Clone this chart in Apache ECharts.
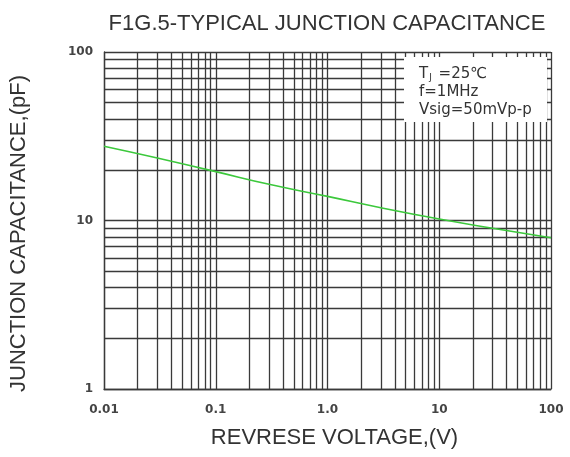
<!DOCTYPE html>
<html>
<head>
<meta charset="utf-8">
<script src="https://cdn.jsdelivr.net/npm/echarts@6/dist/echarts.min.js"></script>
<style>
html,body{margin:0;padding:0;background:#fff;}
#chart{width:570px;height:457px;}
</style>
</head>
<body>
<div id="chart"></div>
<script>
// Data
var voltage = [0.01, 0.03, 0.1, 0.3, 1, 3, 10, 30, 100];
var capacitance = [27.6, 23.5, 19.5, 16.4, 13.9, 11.9, 10.2, 9.0, 7.9];
var xTickLabels = {"0.01": "0.01", "0.1": "0.1", "1": "1.0", "10": "10", "100": "100"};
var yTickLabels = {"1": "1", "10": "10", "100": "100"};
var xMinorGrid = [0.02,0.03,0.04,0.05,0.06,0.07,0.08,0.09,
                  0.2,0.3,0.4,0.5,0.6,0.7,0.8,0.9,
                  2,3,4,5,6,7,8,9,
                  20,30,40,50,60,70,80,90];
var yMinorGrid = [2,3,4,5,6,7,8,9,20,30,40,50,60,70,80,90];
var conditions = ["{t|T}{s|J}{t| =25\u2103}", "{t|f=1MHz}", "{t|Vsig=50mVp-p}"];

var FONT = 'DejaVu Sans';
var LFONT = 'Liberation Sans';
var gridColor = '#3a3a3a';
var chart = echarts.init(document.getElementById('chart'), null, {renderer: 'canvas'});
var gridLines = [];
xMinorGrid.forEach(function (v) { gridLines.push({xAxis: v}); });
yMinorGrid.forEach(function (v) { gridLines.push({yAxis: v}); });

chart.setOption({
  animation: false,
  backgroundColor: '#fff',
  title: {
    text: 'F1G.5-TYPICAL JUNCTION CAPACITANCE',
    left: 322, top: 8, textAlign: 'center',
    textStyle: {fontFamily: LFONT, fontSize: 22, fontWeight: 'normal', color: '#333'}
  },
  grid: {left: 103, right: 19, top: 52, bottom: 68, show: false},
  xAxis: {
    type: 'log', logBase: 10, min: 0.01, max: 100,
    name: 'REVRESE VOLTAGE,(V)', nameLocation: 'middle', nameGap: 38,
    nameTextStyle: {fontFamily: LFONT, fontSize: 22, color: '#333', padding: [0, 0, 0, 14]},
    axisLine: {show: true, lineStyle: {color: gridColor, width: 1.3}},
    axisTick: {show: false},
    axisLabel: {
      margin: 15, color: '#444', fontWeight: 'bold', fontSize: 12,
      fontFamily: FONT,
      formatter: function (v) { var k = String(+v.toPrecision(6)); return xTickLabels[k] !== undefined ? xTickLabels[k] : ''; }
    },
    splitLine: {show: true, lineStyle: {color: gridColor, width: 1.3}}
  },
  yAxis: {
    type: 'log', logBase: 10, min: 1, max: 100,
    name: 'JUNCTION CAPACITANCE,(pF)', nameLocation: 'middle', nameGap: 74,
    nameTextStyle: {fontFamily: LFONT, fontSize: 22, color: '#333', padding: [0, 26, 0, 0]},
    axisLine: {show: true, lineStyle: {color: gridColor, width: 1.3}},
    axisTick: {show: false},
    axisLabel: {
      margin: 11, color: '#444', fontWeight: 'bold', fontSize: 12,
      fontFamily: FONT,
      formatter: function (v) { var k = String(+v.toPrecision(6)); return yTickLabels[k] !== undefined ? yTickLabels[k] : ''; }
    },
    splitLine: {show: true, lineStyle: {color: gridColor, width: 1.3}}
  },
  series: [
    {
      type: 'line', data: [], z: 1, silent: true,
      markLine: {
        silent: true, symbol: 'none', label: {show: false},
        lineStyle: {color: gridColor, width: 1.3, type: 'solid'},
        data: gridLines
      }
    },
    {
      type: 'line', z: 5,
      data: voltage.map(function (v, i) { return [v, capacitance[i]]; }),
      smooth: true, showSymbol: false,
      lineStyle: {color: '#3cc83c', width: 1.6}
    }
  ],
  graphic: [
    {
      type: 'rect', z: 10,
      shape: {x: 404, y: 57, width: 143, height: 65},
      style: {fill: '#fff', stroke: null}
    },
    {
      type: 'text', z: 11, left: 419, top: 66,
      style: {
        text: conditions.join('\n'),
        rich: {
          t: {fontFamily: FONT, fontSize: 15, fill: '#333', lineHeight: 18},
          s: {fontFamily: FONT, fontSize: 9, fill: '#333', lineHeight: 18, padding: [7, 2, 0, 1]}
        }
      }
    }
  ]
});
</script>
</body>
</html>
